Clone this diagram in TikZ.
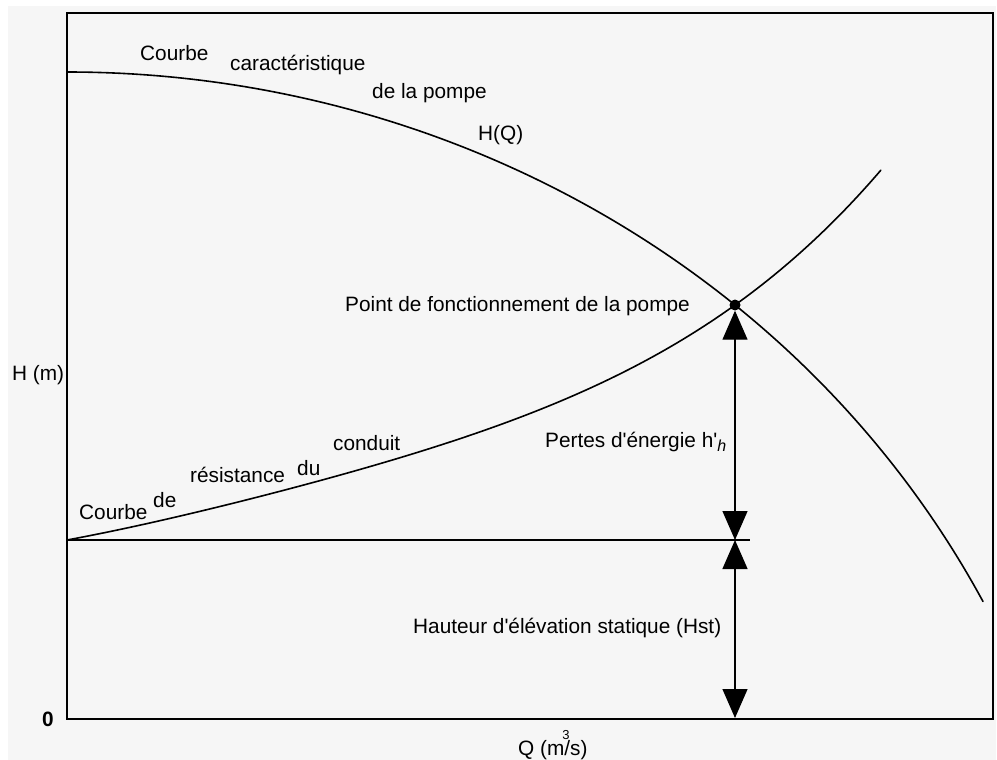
\documentclass[tikz,border=0pt]{standalone}
\usepackage{fontspec}
\setmainfont{Liberation Sans}
\usetikzlibrary{arrows.meta}

\definecolor{sheet}{HTML}{F6F6F6}
\newcommand{\apos}{\textquotesingle}

\tikzset{
  lbl/.style={anchor=west, inner sep=0pt, font=\fontsize{20.8}{24}\selectfont},
  curve/.style={line width=1.6pt, line cap=round},
  dimarrow/.style={line width=1.3pt,
    {Triangle[length=29pt,width=25pt]}-{Triangle[length=29pt,width=25pt]}},
}

\begin{document}
\begin{tikzpicture}[x=1pt, y=-1pt] % one unit = one pixel

  % Sheet and frame
  \useasboundingbox (0,0) rectangle (997,760);
  \fill[white] (0,0) rectangle (997,760);
  \fill[sheet] (8,6) rectangle (996,760);
  \draw[line width=2.6pt] (67,13) rectangle (993,719);

  % Pump curve H(Q) (quarter ellipse)
  \draw[curve, domain=0:916, samples=200, smooth, variable=\d]
    plot ({67+\d}, {72+975.7*(1-sqrt(1-(\d/1030)^2))});

  % Pipe resistance curve (t = d/100, Newton form)
  \draw[curve, domain=0:8.14, samples=200, smooth, variable=\t]
    plot ({67+100*\t}, {540-\t*(22.013+1.5955*(\t-1.59)+0.34784*(\t-1.59)*(\t-3.83)
      +0.076956*(\t-1.59)*(\t-3.83)*(\t-6.68))});

  % Operating point and levels
  \node[circle, fill, inner sep=0pt, minimum size=11pt] (op) at (735,305) {};
  \coordinate (base) at (735,540);
  \coordinate (zero) at (735,718);
  \coordinate (hs) at (67,540);
  \coordinate (he) at (750,540);

  \draw[line width=1.3pt] (hs) -- (he);
  \draw[dimarrow] (op) -- (base);
  \draw[dimarrow] (base) -- (zero);

  % Labels of the pump curve
  \node[lbl] (courbeH) at (140,53) {Courbe};
  \node[lbl] (caract) at (230,65) {caractéristique};
  \node[lbl] (pompe) at (372,93) {de la pompe};
  \node[lbl] (hq) at (478,135) {H(Q)};
  \node[lbl] (opl) at (345,306) {Point de fonctionnement de la pompe};

  % Labels of the resistance curve
  \node[lbl] (courbeR) at (79,512) {Courbe};
  \node[lbl] (de) at (153,500) {de};
  \node[lbl] (resist) at (190,475) {résistance};
  \node[lbl] (du) at (297,468) {du};
  \node[lbl] (conduit) at (333,443) {conduit};

  % Heights
  \node[lbl] (pertes) at (545,442)
    {Pertes d\apos énergie h\apos\raisebox{-0.35ex}{\fontsize{16}{16}\selectfont\itshape h}};
  \node[lbl] (hst) at (413,628) {Hauteur d\apos élévation statique (Hst)};

  % Axes
  \node[lbl] (hm) at (12,375) {H (m)};
  \node[lbl, font=\bfseries\fontsize{20.8}{24}\selectfont] (orig) at (42,719) {0};
  \node[lbl] (qaxis) at (518,745)
    {Q (m\kern-2pt\rlap{\raisebox{16pt}{\fontsize{13}{13}\selectfont 3}}\kern2pt/s)};
\end{tikzpicture}
\end{document}
